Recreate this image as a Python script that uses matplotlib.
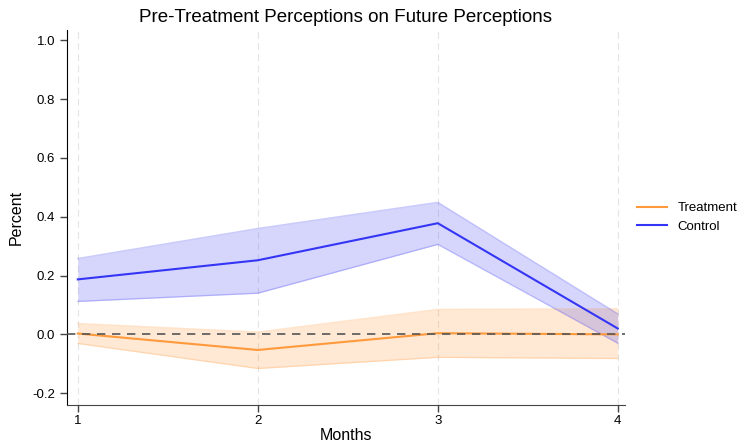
import numpy as np
import matplotlib
matplotlib.use("Agg")
import matplotlib.pyplot as plt

plt.rcParams['font.family'] = ['Liberation Sans', 'DejaVu Sans']

months = [1, 2, 3, 4]
treat_mean = [0.003, -0.053, 0.004, 0.0]
treat_lo = [-0.031, -0.116, -0.078, -0.082]
treat_hi = [0.037, 0.008, 0.085, 0.087]
ctrl_mean = [0.187, 0.252, 0.378, 0.02]
ctrl_lo = [0.112, 0.14, 0.306, -0.03]
ctrl_hi = [0.258, 0.36, 0.449, 0.07]

orange = '#ff9a3c'
blue = '#3535f5'

fig = plt.figure(figsize=(7.5, 4.47), dpi=100)
ax = fig.add_axes([0.0893, 0.094, 0.744, 0.839])

for x in months:
    ax.axvline(x, color='#e4e4e4', lw=0.8, ls=(0, (6, 4)), zorder=0)

ax.fill_between(months, treat_lo, treat_hi, color=orange, alpha=0.22, lw=0, zorder=1)
ax.plot(months, treat_lo, color=orange, alpha=0.25, lw=1)
ax.plot(months, treat_hi, color=orange, alpha=0.25, lw=1)
ax.fill_between(months, ctrl_lo, ctrl_hi, color=blue, alpha=0.2, lw=0, zorder=1)
ax.plot(months, ctrl_lo, color=blue, alpha=0.25, lw=1)
ax.plot(months, ctrl_hi, color=blue, alpha=0.25, lw=1)

ax.plot(months, treat_mean, color=orange, lw=1.5, label='Treatment', zorder=3)
ax.plot(months, ctrl_mean, color=blue, lw=1.5, label='Control', zorder=3)
ax.axhline(0, color='#555555', lw=1.2, ls=(0, (5, 4)), zorder=4)

ax.set_xlim(0.94, 4.04)
ax.set_ylim(-0.24, 1.035)
ax.set_xticks(months)
ax.set_yticks(np.arange(-0.2, 1.01, 0.2))
ax.set_yticklabels([f'{v:.1f}' for v in np.arange(-0.2, 1.01, 0.2)])
ax.tick_params(axis='both', labelsize=9.5, length=5, width=1, color='#444444')
ax.tick_params(axis='x', pad=2)
for s in ['top', 'right']:
    ax.spines[s].set_visible(False)
ax.spines['left'].set_color('black')
ax.spines['bottom'].set_color('#444444')

ax.set_title('Pre-Treatment Perceptions on Future Perceptions', fontsize=13.5, pad=6)
ax.set_xlabel('Months', fontsize=11.5, labelpad=1)
ax.set_ylabel('Percent', fontsize=11.5, labelpad=6)

ax.legend(loc='center left', bbox_to_anchor=(1.0, 0.5), frameon=False,
          fontsize=9.5, handlelength=2.3)

fig.savefig('out.png', dpi=100)
